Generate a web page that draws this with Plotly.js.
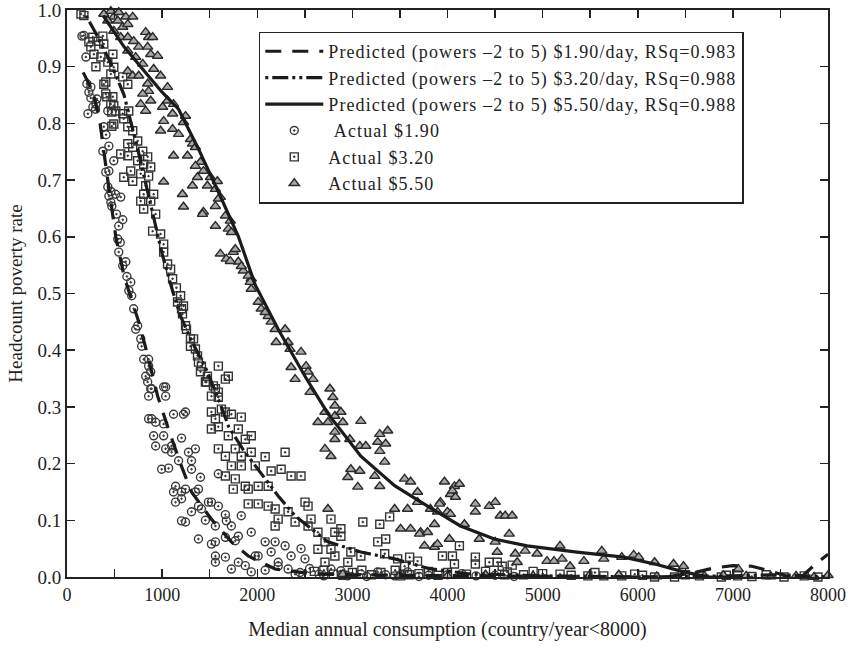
<!DOCTYPE html>
<html><head><meta charset="utf-8">
<script src="https://cdn.plot.ly/plotly-3.0.1.min.js"></script>
<style>html,body{margin:0;padding:0;background:#fff}#chart{width:848px;height:652px}
.legendtext{letter-spacing:1.1px}</style>
</head><body><div id="chart"></div>
<script>
// ---- Data ----
const actual190 = [[157,0.954],[178,0.955],[199,0.917],[209,0.87],[230,0.855],[251,0.864],[251,0.845],[220,0.817],[272,0.829],[304,0.834],[300,0.825],[314,0.843],[429,0.822],
[387,0.794],[410,0.78],[440,0.76],[492,0.734],[377,0.751],[408,0.714],[440,0.716],[429,0.688],[461,0.68],[510,0.675],[565,0.67],[440,0.672],[471,0.654],[520,0.64],[544,0.619],[461,0.661],[586,0.63],[534,0.596],[544,0.573],[560,0.59],[586,0.549],[618,0.556],[630,0.53],[670,0.52],[650,0.505],[680,0.496],[701,0.473],[722,0.437],[743,0.443],[775,0.42],[785,0.407],[806,0.384],[827,0.354],[848,0.344],[858,0.372],[858,0.384],[880,0.362],[880,0.332],[890,0.332],[1016,0.335],[1037,0.335],[1037,0.319],[858,0.319],[858,0.279],[890,0.279],[932,0.273],[1016,0.27],[1120,0.287],[1225,0.287],[1246,0.291],[911,0.249],[1016,0.249],[932,0.231],[1037,0.226],[1099,0.231],[1204,0.245],[1099,0.22],[1277,0.22],[1350,0.226],[1173,0.205],[1309,0.205],[995,0.19],[1068,0.192],[1309,0.19],[1403,0.176],[1591,0.182],[1141,0.16],[1120,0.15],[1204,0.15],[1246,0.155],[1382,0.155],[1350,0.15],[1141,0.132],[1204,0.138],[1382,0.125],[1413,0.12],[1487,0.132],[1518,0.132],[1591,0.125],[1309,0.115],[1665,0.11],[1204,0.099],[1246,0.097],[1455,0.1],[1560,0.09],[1675,0.099],[1728,0.09],[1832,0.108],[1382,0.067],[1518,0.058],[1560,0.062],[1665,0.07],[1769,0.064],[1801,0.072],[1937,0.079],[2083,0.062],[2188,0.062],[2293,0.055],[2460,0.05],[1560,0.037],[1665,0.035],[1560,0.026],[1728,0.014],[1801,0.026],[1874,0.02],[1979,0.037],[2010,0.037],[2146,0.044],[2356,0.037],[2220,0.026],[2324,0.014],[2083,0.012],[2220,0.019],[1937,0.009],[2398,0.005],[2502,0.032],[2550,0.015],[2650,0.005],[2775,0.014],[2879,0.011],[3089,0.005],[3267,0.009],[3444,0.002],[3580,0.009],[3800,0.003],[4000,0.004],[4300,0.002],[4700,0.001],[2950,0.002],[3150,0.001],[2450,0.008],[2700,0.002],[3350,0.004],[3700,0.001],[4150,0.006],[4500,0.003]];

const actual320 = [[147,0.993],[178,0.99],[230,0.944],[251,0.935],[272,0.952],[283,0.922],[304,0.90],[330,0.945],[356,0.917],[377,0.954],[387,0.94],[387,0.869],[408,0.873],[408,0.852],[429,0.908],[419,0.847],[461,0.887],[461,0.834],[471,0.82],[482,0.922],[482,0.847],[492,0.899],[492,0.831],[492,0.799],[471,0.795],[513,0.822],[565,0.746],[586,0.882],[586,0.817],[597,0.808],[597,0.705],[639,0.869],[639,0.794],[639,0.764],[639,0.743],[649,0.822],[670,0.716],[691,0.787],[691,0.758],[691,0.698],[743,0.769],[743,0.734],[775,0.711],[775,0.663],[796,0.751],[806,0.728],[806,0.675],[806,0.649],[827,0.69],[848,0.741],[858,0.707],[880,0.723],[880,0.663],[900,0.61],[911,0.675],[932,0.64],[984,0.605],[1016,0.587],[1016,0.573],[1057,0.552],[1089,0.543],[1110,0.526],[1150,0.51],[1194,0.496],[1162,0.485],[1204,0.473],[1225,0.478],[1214,0.464],[1246,0.443],[1256,0.437],[1298,0.42],[1330,0.42],[1298,0.407],[1350,0.402],[1372,0.39],[1382,0.379],[1403,0.362],[1413,0.372],[1476,0.354],[1455,0.344],[1466,0.344],[1539,0.337],[1560,0.332],[1591,0.326],[1591,0.372],[1696,0.354],[1665,0.349],[1518,0.319],[1591,0.317],[1623,0.296],[1518,0.291],[1560,0.279],[1665,0.291],[1728,0.287],[1832,0.282],[1518,0.261],[1591,0.265],[1696,0.249],[1801,0.261],[1937,0.249],[1874,0.243],[1591,0.226],[1665,0.213],[1769,0.226],[1832,0.213],[1937,0.22],[2083,0.212],[2293,0.22],[1728,0.196],[1832,0.196],[1979,0.196],[2146,0.187],[2251,0.19],[2356,0.178],[2460,0.178],[1665,0.178],[1769,0.173],[1874,0.16],[1748,0.155],[1905,0.155],[2010,0.16],[2115,0.16],[1905,0.129],[2010,0.129],[2115,0.125],[2188,0.12],[2220,0.102],[2324,0.115],[2398,0.097],[2188,0.09],[2502,0.132],[2534,0.125],[2565,0.102],[2534,0.09],[2638,0.079],[2712,0.062],[2775,0.102],[2816,0.079],[2879,0.085],[2879,0.072],[2775,0.049],[2816,0.037],[2638,0.049],[2712,0.026],[2984,0.044],[3089,0.037],[2952,0.026],[3110,0.097],[3288,0.093],[3392,0.106],[3267,0.062],[3350,0.067],[3340,0.041],[3476,0.032],[3602,0.035],[3685,0.028],[3947,0.037],[4052,0.037],[4125,0.055],[4073,0.023],[4293,0.035],[4293,0.023],[4439,0.026],[4523,0.026],[4575,0.019],[4680,0.021],[4628,0.009],[3549,0.019],[3507,0.002],[2600,0.01],[2800,0.005],[3000,0.008],[3200,0.004],[3700,0.006],[3900,0.003],[4200,0.005],[4800,0.004],[5000,0.006],[5183,0.005],[5476,0.002],[5643,0.002],[5832,0.002],[5968,0.005],[6177,0.0],[6387,0.0],[6648,0.002],[6879,0.0],[6931,0.003],[7200,0.001],[7538,0.0],[7894,0.0],[2700,0.012],[2900,0.003],[3100,0.012],[3300,0.008],[3450,0.012],[3600,0.004],[3800,0.01],[4000,0.008],[4400,0.01],[4600,0.004],[4900,0.01],[5300,0.003],[5550,0.008],[6050,0.003],[6500,0.004],[7050,0.002],[7350,0.004],[7750,0.002]];

const actual550 = [[387,0.993],[461,0.998],[492,0.988],[544,0.996],[618,0.988],[691,0.988],[429,0.981],[534,0.981],[492,0.963],[586,0.97],[639,0.975],[565,0.952],[639,0.952],[701,0.945],[827,0.961],[858,0.952],[900,0.952],[639,0.928],[754,0.935],[722,0.917],[848,0.935],[880,0.922],[953,0.919],[796,0.905],[911,0.896],[639,0.892],[691,0.884],[754,0.884],[984,0.884],[1057,0.864],[848,0.87],[858,0.857],[796,0.852],[775,0.834],[880,0.84],[1005,0.829],[827,0.822],[1057,0.84],[1120,0.834],[1110,0.817],[1246,0.813],[1225,0.802],[1016,0.804],[1110,0.79],[984,0.787],[1173,0.781],[1298,0.772],[1319,0.764],[1350,0.758],[1120,0.743],[1267,0.743],[1403,0.732],[1350,0.725],[1434,0.716],[1508,0.705],[1372,0.705],[1581,0.698],[1319,0.69],[1476,0.69],[1560,0.684],[1612,0.67],[1016,0.697],[1214,0.675],[1225,0.653],[1434,0.644],[1560,0.654],[1591,0.667],[1560,0.619],[1665,0.637],[1696,0.614],[1728,0.608],[1612,0.57],[1675,0.561],[1748,0.573],[1801,0.556],[1853,0.54],[1937,0.526],[1937,0.508],[1717,0.628],[1717,0.557],[1769,0.578],[1832,0.548],[1905,0.531],[2010,0.485],[2041,0.473],[2115,0.46],[2146,0.45],[2188,0.437],[2293,0.437],[2199,0.414],[2324,0.414],[2345,0.402],[2460,0.397],[2356,0.37],[2513,0.372],[2534,0.362],[2398,0.349],[2586,0.349],[2555,0.326],[2764,0.332],[2795,0.317],[2816,0.302],[1424,0.64],[1926,0.52],[2083,0.467],[2712,0.291],[2816,0.284],[2879,0.291],[2638,0.273],[2743,0.273],[2900,0.273],[3089,0.275],[2816,0.256],[2816,0.243],[2973,0.243],[3078,0.231],[3141,0.231],[2712,0.226],[2775,0.213],[3288,0.252],[3371,0.258],[3267,0.238],[3350,0.235],[3288,0.222],[3340,0.203],[2984,0.19],[3078,0.187],[2952,0.176],[3057,0.159],[3235,0.178],[3288,0.16],[3549,0.173],[3612,0.168],[3685,0.15],[3580,0.12],[3507,0.085],[3612,0.085],[3717,0.079],[3758,0.055],[3863,0.053],[3821,0.12],[3926,0.132],[3968,0.168],[4073,0.16],[4031,0.146],[3895,0.115],[3999,0.115],[2743,0.12],[3444,0.12],[3685,0.132],[3916,0.129],[4031,0.111],[4125,0.164],[4052,0.152],[4083,0.141],[4293,0.129],[4293,0.115],[4439,0.125],[4502,0.132],[4554,0.108],[4607,0.108],[4680,0.108],[3863,0.093],[4178,0.093],[4649,0.076],[3706,0.076],[3790,0.079],[4020,0.067],[3895,0.058],[4334,0.067],[4502,0.062],[4523,0.044],[4712,0.041],[4733,0.026],[4816,0.046],[4942,0.041],[5046,0.028],[5120,0.028],[5183,0.055],[5204,0.032],[5288,0.019],[5434,0.028],[5622,0.046],[5643,0.032],[5832,0.035],[5957,0.039],[6010,0.035],[6177,0.026],[6376,0.023],[6481,0.019],[7057,0.014],[7140,0.002],[5486,0.002],[7664,0.002],[7853,0.0],[2900,0.005],[3500,0.003],[4000,0.002],[4400,0.004],[4900,0.002],[6200,0.001],[6700,0.002],[5800,0.004],[6900,0.003],[7400,0.001],[8000,0.003]];

const pred190X = [170,230,280,340,420,513,600,691,754,850,953,1068,1204,1309,1413,1518,1728,1905,2188,2600,3500,4500,5500,6300,6600,6800,7000,7200,7400,7600,7700,7850,8000];
const pred190Y = [0.89,0.87,0.85,0.81,0.71,0.60,0.53,0.485,0.45,0.39,0.319,0.26,0.195,0.15,0.125,0.102,0.062,0.037,0.014,0.005,0.003,0.002,0.002,0.0,0.008,0.016,0.02,0.019,0.01,0.0,-0.003,0.02,0.04];
const pred320X = [200,300,450,600,750,911,1000,1100,1194,1300,1476,1600,1700,1850,1979,2220,2397,2565,2743,3089,3444,3800,4200,5000,6000,7000,7500,8000];
const pred320Y = [0.99,0.96,0.91,0.85,0.75,0.631,0.57,0.51,0.46,0.42,0.362,0.31,0.265,0.225,0.196,0.143,0.108,0.085,0.062,0.044,0.032,0.015,0.006,0.002,0.0,0.002,0.004,0.0];
const pred550X = [380,600,858,1000,1173,1382,1592,1801,1979,2220,2502,2743,3089,3444,3790,4136,4492,4837,5361,5853,6200,6481,6753,7000];
const pred550Y = [0.99,0.935,0.883,0.855,0.825,0.755,0.679,0.601,0.515,0.437,0.354,0.288,0.213,0.161,0.125,0.090,0.067,0.055,0.044,0.035,0.022,0.009,0.0,0.0];

const names = [
  'Predicted (powers \u20132 to 5) $1.90/day, RSq=0.983',
  'Predicted (powers \u20132 to 5) $3.20/day, RSq=0.988',
  'Predicted (powers \u20132 to 5) $5.50/day, RSq=0.988',
  '\u00a0Actual $1.90',
  'Actual $3.20',
  'Actual $5.50'
];

const FONT = 'Liberation Serif, Times New Roman, serif';
const ink = '#1b1b1b';

const traces = [
  {x: actual190.map(p=>p[0]), y: actual190.map(p=>p[1]), mode:'markers', type:'scatter', name:names[3], legendrank:4, cliponaxis:false,
   marker:{symbol:'circle-open-dot', size:8, color:'#3a3a3a', line:{width:1.4}}},
  {x: actual320.map(p=>p[0]), y: actual320.map(p=>p[1]), mode:'markers', type:'scatter', name:names[4], legendrank:5, cliponaxis:false,
   marker:{symbol:'square-open-dot', size:8, color:'#333', line:{width:1.4}}},
  {x: actual550.map(p=>p[0]), y: actual550.map(p=>p[1]), mode:'markers', type:'scatter', name:names[5], legendrank:6, cliponaxis:false,
   marker:{symbol:'triangle-up', size:9, color:'#a8a8a8', line:{width:1.4, color:'#2a2a2a'}}},
  {x: pred190X, y: pred190Y, mode:'lines', type:'scatter', name:names[0], legendrank:1,
   line:{color:ink, width:3.2, dash:'16px,11px'}},
  {x: pred320X, y: pred320Y, mode:'lines', type:'scatter', name:names[1], legendrank:2,
   line:{color:ink, width:3.2, dash:'3px,4px,16px,4px,3px,4px'}},
  {x: pred550X, y: pred550Y, mode:'lines', type:'scatter', name:names[2], legendrank:3,
   line:{color:ink, width:3.2}}
];

const layout = {
  width:848, height:652,
  margin:{l:67, r:20, t:10, b:75},
  paper_bgcolor:'#fff', plot_bgcolor:'#fff',
  font:{family:FONT, size:19, color:'#222'},
  showlegend:true,
  legend:{x:0.252, y:0.962, xanchor:'left', yanchor:'top', bgcolor:'#fff', bordercolor:'#222', borderwidth:1.5,
          font:{family:FONT, size:18, color:'#222'}, itemwidth:58, traceorder:'normal', tracegroupgap:0},
  xaxis:{range:[0,8000], dtick:1000, tick0:0, showgrid:false, zeroline:false,
         showline:true, linecolor:'#222', linewidth:2, mirror:'ticks',
         ticks:'inside', ticklen:8, tickwidth:1.5, tickcolor:'#222', ticklabeloverflow:'allow',
         minor:{dtick:500, ticks:'inside', ticklen:8, tickwidth:1.5, tickcolor:'#222', showgrid:false},
         tickfont:{family:FONT, size:18, color:'#222'},
         title:{text:'Median annual consumption (country/year<8000)', font:{family:FONT, size:20, color:'#222'}, standoff:18}},
  yaxis:{range:[0,1.0], dtick:0.1, tick0:0, tickformat:'.1f', showgrid:false, zeroline:false,
         showline:true, linecolor:'#222', linewidth:2, mirror:'ticks',
         ticks:'inside', ticklen:8, tickwidth:1.5, tickcolor:'#222', ticklabeloverflow:'allow',
         tickfont:{family:FONT, size:19, color:'#222'},
         title:{text:'Headcount poverty rate', font:{family:FONT, size:19, color:'#222'}, standoff:10}}
};

Plotly.newPlot('chart', traces, layout, {displayModeBar:false, staticPlot:true});
</script>
</body></html>
